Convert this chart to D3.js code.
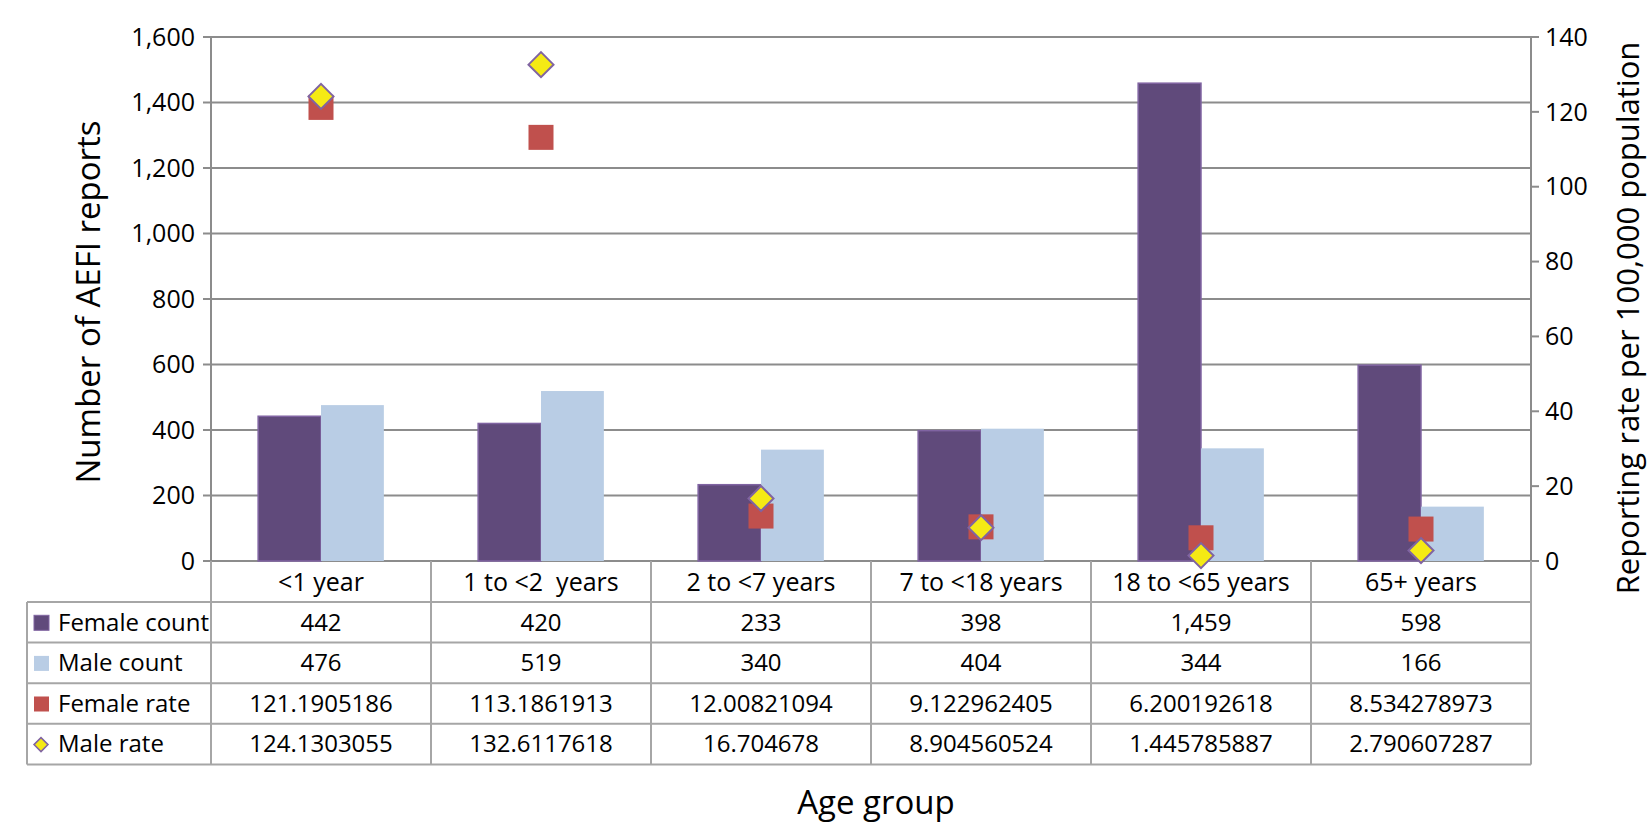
<!DOCTYPE html>
<html>
<head>
<meta charset="utf-8">
<script src="https://cdn.jsdelivr.net/npm/d3@7"></script>
<style>
  body { margin: 0; background: #fff; }
  text { font-family: "Open Sans", Lato, sans-serif; fill: #000; }
</style>
</head>
<body>
<div id="chart"></div>
<script>
var categories = ["<1 year", "1 to <2  years", "2 to <7 years", "7 to <18 years", "18 to <65 years", "65+ years"];
var femaleCount = [442, 420, 233, 398, 1459, 598];
var maleCount = [476, 519, 340, 404, 344, 166];
var femaleRate = [121.1905186, 113.1861913, 12.00821094, 9.122962405, 6.200192618, 8.534278973];
var maleRate = [124.1303055, 132.6117618, 16.704678, 8.904560524, 1.445785887, 2.790607287];
var femaleRateText = ["121.1905186", "113.1861913", "12.00821094", "9.122962405", "6.200192618", "8.534278973"];
var maleRateText = ["124.1303055", "132.6117618", "16.704678", "8.904560524", "1.445785887", "2.790607287"];
var leftTicks = [0, 200, 400, 600, 800, 1000, 1200, 1400, 1600];
var rightTicks = [0, 20, 40, 60, 80, 100, 120, 140];

var W = 1650, H = 836;
var plot = {left: 211, right: 1531, top: 37, bottom: 561};
var rowH = 40.6, headH = 41;
var tableLeft = 27;
var gridCol = "#8c8c8c", tableCol = "#a6a6a6";
var cFem = "#604a7b", cMale = "#b9cde5", cFemRate = "#c0504d", cMaleRate = "#f5ea14", cEdge = "#8064a2";

var svg = d3.select("#chart").append("svg")
    .attr("width", W)
    .attr("height", H);

var x = d3.scaleBand().domain(categories).range([plot.left, plot.right]);
var xs = d3.scaleBand().domain(["f", "m"]).range([0, x.bandwidth()]).paddingOuter(0.75);
var y = d3.scaleLinear().domain([0, 1600]).range([plot.bottom, plot.top]);
var y2 = d3.scaleLinear().domain([0, 140]).range([plot.bottom, plot.top]);

// gridlines + left ticks
var grid = svg.append("g").attr("class", "grid");
grid.selectAll("line").data(leftTicks).enter().append("line")
    .attr("x1", plot.left - 8)
    .attr("x2", plot.right)
    .attr("y1", function(d) { return y(d); })
    .attr("y2", function(d) { return y(d); })
    .attr("stroke", gridCol)
    .attr("stroke-width", 2);

svg.append("g").selectAll("text").data(leftTicks).enter().append("text")
    .attr("x", plot.left - 16)
    .attr("y", function(d) { return y(d); })
    .attr("dy", "0.35em")
    .attr("text-anchor", "end")
    .style("font-size", "25px")
    .text(d3.format(","));

// left axis line
svg.append("line")
    .attr("x1", plot.left).attr("x2", plot.left)
    .attr("y1", plot.top).attr("y2", plot.bottom)
    .attr("stroke", gridCol).attr("stroke-width", 2);

// right axis
var yAxisR = svg.append("g").attr("class", "right-axis");
yAxisR.append("line")
    .attr("x1", plot.right).attr("x2", plot.right)
    .attr("y1", plot.top).attr("y2", plot.bottom)
    .attr("stroke", gridCol).attr("stroke-width", 2);
yAxisR.selectAll(".tk").data(rightTicks).enter().append("line")
    .attr("class", "tk")
    .attr("x1", plot.right).attr("x2", plot.right + 8)
    .attr("y1", function(d) { return y2(d); })
    .attr("y2", function(d) { return y2(d); })
    .attr("stroke", gridCol).attr("stroke-width", 2);
yAxisR.selectAll("text").data(rightTicks).enter().append("text")
    .attr("x", plot.right + 14)
    .attr("y", function(d) { return y2(d); })
    .attr("dy", "0.35em")
    .style("font-size", "25px")
    .text(function(d) { return d; });

// bars
var bars = svg.append("g").attr("class", "bars");
bars.selectAll(".fem").data(femaleCount).enter().append("rect")
    .attr("class", "fem")
    .attr("x", function(d, i) { return x(categories[i]) + xs("f"); })
    .attr("width", xs.bandwidth())
    .attr("y", function(d) { return y(d); })
    .attr("height", function(d) { return y(0) - y(d); })
    .attr("fill", cFem)
    .attr("stroke", cEdge).attr("stroke-width", 1.5);
bars.selectAll(".male").data(maleCount).enter().append("rect")
    .attr("class", "male")
    .attr("x", function(d, i) { return x(categories[i]) + xs("m"); })
    .attr("width", xs.bandwidth())
    .attr("y", function(d) { return y(d); })
    .attr("height", function(d) { return y(0) - y(d); })
    .attr("fill", cMale);

// rate markers
var sq = 25;
var marks = svg.append("g").attr("class", "markers");
marks.selectAll(".frate").data(femaleRate).enter().append("rect")
    .attr("class", "frate")
    .attr("x", function(d, i) { return x(categories[i]) + x.bandwidth() / 2 - sq / 2; })
    .attr("y", function(d) { return y2(d) - sq / 2; })
    .attr("width", sq).attr("height", sq)
    .attr("fill", cFemRate);
var dia = 12.5;
marks.selectAll(".mrate").data(maleRate).enter().append("path")
    .attr("class", "mrate")
    .attr("transform", function(d, i) {
        return "translate(" + (x(categories[i]) + x.bandwidth() / 2) + "," + y2(d) + ")";
    })
    .attr("d", "M0," + (-dia) + "L" + dia + ",0L0," + dia + "L" + (-dia) + ",0Z")
    .attr("fill", cMaleRate)
    .attr("stroke", cEdge).attr("stroke-width", 2);

// data table
var table = svg.append("g").attr("class", "table");
var rows = [
    {label: "Female count", vals: femaleCount.map(d3.format(",")), key: "fem"},
    {label: "Male count", vals: maleCount.map(d3.format(",")), key: "male"},
    {label: "Female rate", vals: femaleRateText, key: "frate"},
    {label: "Male rate", vals: maleRateText, key: "mrate"}
];
var rowTop = function(i) { return plot.bottom + headH + i * rowH; };
var tableBottom = rowTop(rows.length);

// header labels
table.selectAll(".cat").data(categories).enter().append("text")
    .attr("class", "cat")
    .attr("x", function(d) { return x(d) + x.bandwidth() / 2; })
    .attr("y", plot.bottom + headH / 2 + 1)
    .attr("dy", "0.35em")
    .attr("text-anchor", "middle")
    .style("font-size", "25px")
    .style("white-space", "pre")
    .text(function(d) { return d; });

// horizontal lines
var hl = d3.range(rows.length + 1);
table.selectAll(".hl").data(hl).enter().append("line")
    .attr("x1", tableLeft).attr("x2", plot.right)
    .attr("y1", function(d) { return rowTop(d); })
    .attr("y2", function(d) { return rowTop(d); })
    .attr("stroke", tableCol).attr("stroke-width", 2);

// vertical lines
var vx = categories.map(function(c) { return x(c); }).concat([plot.right]);
table.selectAll(".vl").data(vx).enter().append("line")
    .attr("x1", function(d) { return d; }).attr("x2", function(d) { return d; })
    .attr("y1", plot.bottom).attr("y2", tableBottom)
    .attr("stroke", tableCol).attr("stroke-width", 2);
table.append("line")
    .attr("x1", tableLeft).attr("x2", tableLeft)
    .attr("y1", rowTop(0)).attr("y2", tableBottom)
    .attr("stroke", tableCol).attr("stroke-width", 2);

var rowG = table.selectAll(".row").data(rows).enter().append("g")
    .attr("transform", function(d, i) { return "translate(0," + rowTop(i) + ")"; });

rowG.append("text")
    .attr("x", 58)
    .attr("y", rowH / 2)
    .attr("dy", "0.35em")
    .style("font-size", "24px")
    .text(function(d) { return d.label; });

rowG.each(function(d) {
    var g = d3.select(this), cy = rowH / 2;
    if (d.key === "fem") {
        g.append("rect").attr("x", 34).attr("y", cy - 7).attr("width", 15).attr("height", 15)
            .attr("fill", cFem).attr("stroke", cEdge).attr("stroke-width", 1);
    } else if (d.key === "male") {
        g.append("rect").attr("x", 34).attr("y", cy - 7).attr("width", 15).attr("height", 15).attr("fill", cMale);
    } else if (d.key === "frate") {
        g.append("rect").attr("x", 34).attr("y", cy - 7).attr("width", 15).attr("height", 15).attr("fill", cFemRate);
    } else {
        g.append("path")
            .attr("transform", "translate(41," + (cy + 0.5) + ")")
            .attr("d", "M0,-7L7,0L0,7L-7,0Z")
            .attr("fill", cMaleRate).attr("stroke", cEdge).attr("stroke-width", 1.5);
    }
    g.selectAll(".v").data(d.vals).enter().append("text")
        .attr("x", function(v, i) { return x(categories[i]) + x.bandwidth() / 2; })
        .attr("y", cy)
        .attr("dy", "0.35em")
        .attr("text-anchor", "middle")
        .style("font-size", "24px")
        .text(function(v) { return v; });
});

// axis titles
svg.append("text")
    .attr("transform", "translate(88,302) rotate(-90)")
    .attr("text-anchor", "middle")
    .attr("dy", "0.35em")
    .style("font-size", "33px")
    .text("Number of AEFI reports");
svg.append("text")
    .attr("transform", "translate(1628,318) rotate(-90)")
    .attr("text-anchor", "middle")
    .attr("dy", "0.35em")
    .style("font-size", "31px")
    .text("Reporting rate per 100,000 population");
svg.append("text")
    .attr("x", (plot.left + plot.right) / 2 + 5)
    .attr("y", 802)
    .attr("dy", "0.35em")
    .attr("text-anchor", "middle")
    .style("font-size", "33px")
    .text("Age group");
</script>
</body>
</html>
